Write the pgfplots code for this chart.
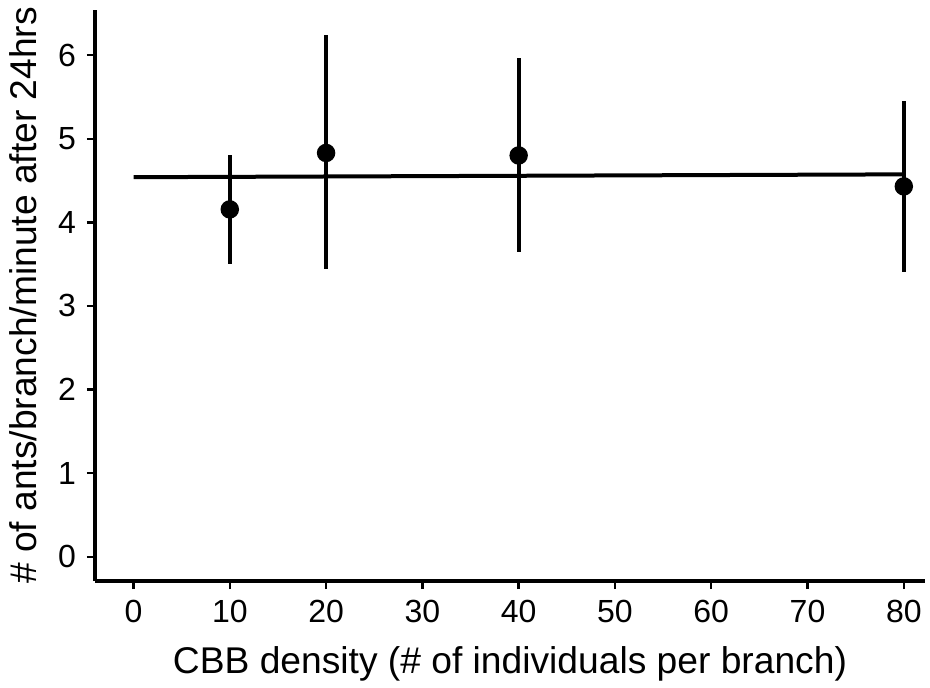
\documentclass[border=0pt]{standalone}
\usepackage{fontspec}
\setmainfont{Liberation Sans}
\usepackage{pgfplots}
\pgfplotsset{compat=1.18}
\usetikzlibrary{calc}
\begin{document}
\fontsize{16}{19}\selectfont
\begin{tikzpicture}
\begin{axis}[
  scale only axis,
  width=415pt, height=285.5pt,
  xmin=-4, xmax=82.2, ymin=-0.29, ymax=6.54,
  axis lines=left,
  axis line style={-, line width=2pt},
  tick align=outside,
  major tick length=4pt,
  tick style={line width=1.2pt, black},
  xtick={0,10,...,80}, ytick={0,1,...,6},
  /pgf/number format/assume math mode=true,
  ticklabel style={font=\fontsize{16}{19}\selectfont},
  label style={font=\fontsize{18.6}{22}\selectfont},
  xlabel={CBB density (\# of individuals per branch)},
  ylabel={\# of ants/branch/minute after 24hrs},
  xlabel style={yshift=-1pt},
  ylabel style={yshift=0pt},
  clip=false,
]
\addplot[black, line width=2pt, no marks] coordinates {(0,4.54) (80,4.574)};
\addplot[black, only marks, mark=*, mark size=3.6pt, line width=2pt,
  error bars/.cd, y dir=both, y explicit, error mark=none,
  error bar style={line width=2pt}]
  coordinates {
   (10,4.155) += (0,0.65) -= (0,0.655)
   (20,4.83) += (0,1.41) -= (0,1.39)
   (40,4.80) += (0,1.17) -= (0,1.16)
   (80,4.43) += (0,1.02) -= (0,1.02)
  };
\end{axis}
\pgfresetboundingbox
\useasboundingbox ($(current axis.south west)+(-47.5pt,-53.5pt)$) rectangle ($(current axis.north east)+(2.5pt,5pt)$);
\end{tikzpicture}
\end{document}
